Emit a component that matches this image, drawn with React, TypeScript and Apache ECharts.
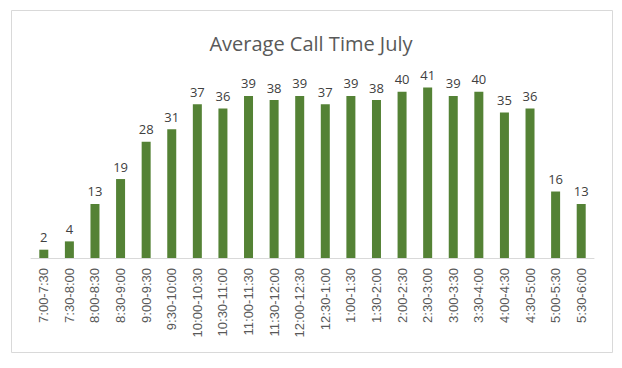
import React, { useEffect, useRef } from "react";
import * as echarts from "echarts";

const categories = [
  "7:00-7:30", "7:30-8:00", "8:00-8:30", "8:30-9:00", "9:00-9:30", "9:30-10:00",
  "10:00-10:30", "10:30-11:00", "11:00-11:30", "11:30-12:00", "12:00-12:30", "12:30-1:00",
  "1:00-1:30", "1:30-2:00", "2:00-2:30", "2:30-3:00", "3:00-3:30", "3:30-4:00",
  "4:00-4:30", "4:30-5:00", "5:00-5:30", "5:30-6:00",
];
const callTimes = [2, 4, 13, 19, 28, 31, 37, 36, 39, 38, 39, 37, 39, 38, 40, 41, 39, 40, 35, 36, 16, 13];
const chartTitle = "Average Call Time July";

export default function App() {
  const ref = useRef<HTMLDivElement>(null);
  useEffect(() => {
    document.body.style.margin = "0";
    const chart = echarts.init(ref.current!, null, { renderer: "svg" });
    const font = "Open Sans";
    chart.setOption({
      animation: false,
      backgroundColor: "#ffffff",
      title: {
        text: chartTitle,
        left: "center",
        top: 28,
        textStyle: { fontFamily: font, fontSize: 20, fontWeight: "normal", color: "#595959" },
      },
      graphic: [
        {
          type: "rect",
          shape: { x: 11.5, y: 10.5, width: 601, height: 342 },
          style: { fill: "none", stroke: "#d9d9d9", lineWidth: 1 },
          silent: true,
        },
      ],
      grid: { left: 31, right: 28, top: 71, bottom: 110 },
      xAxis: {
        type: "category",
        data: categories,
        axisLine: { lineStyle: { color: "#d9d9d9" } },
        axisTick: { show: false },
        axisLabel: {
          rotate: 90,
          interval: 0,
          margin: 10,
          fontFamily: "Liberation Sans",
          fontSize: 13,
          color: "#595959",
        },
      },
      yAxis: {
        type: "value",
        min: 0,
        max: 45,
        show: false,
        splitLine: { show: false },
      },
      series: [
        {
          type: "bar",
          data: callTimes,
          barWidth: 9,
          itemStyle: { color: "#548235" },
          label: {
            show: true,
            position: "top",
            distance: 6,
            fontFamily: font,
            fontSize: 13,
            color: "#404040",
          },
        },
      ],
    });
    return () => chart.dispose();
  }, []);
  return <div ref={ref} style={{ width: 622, height: 368 }} />;
}
